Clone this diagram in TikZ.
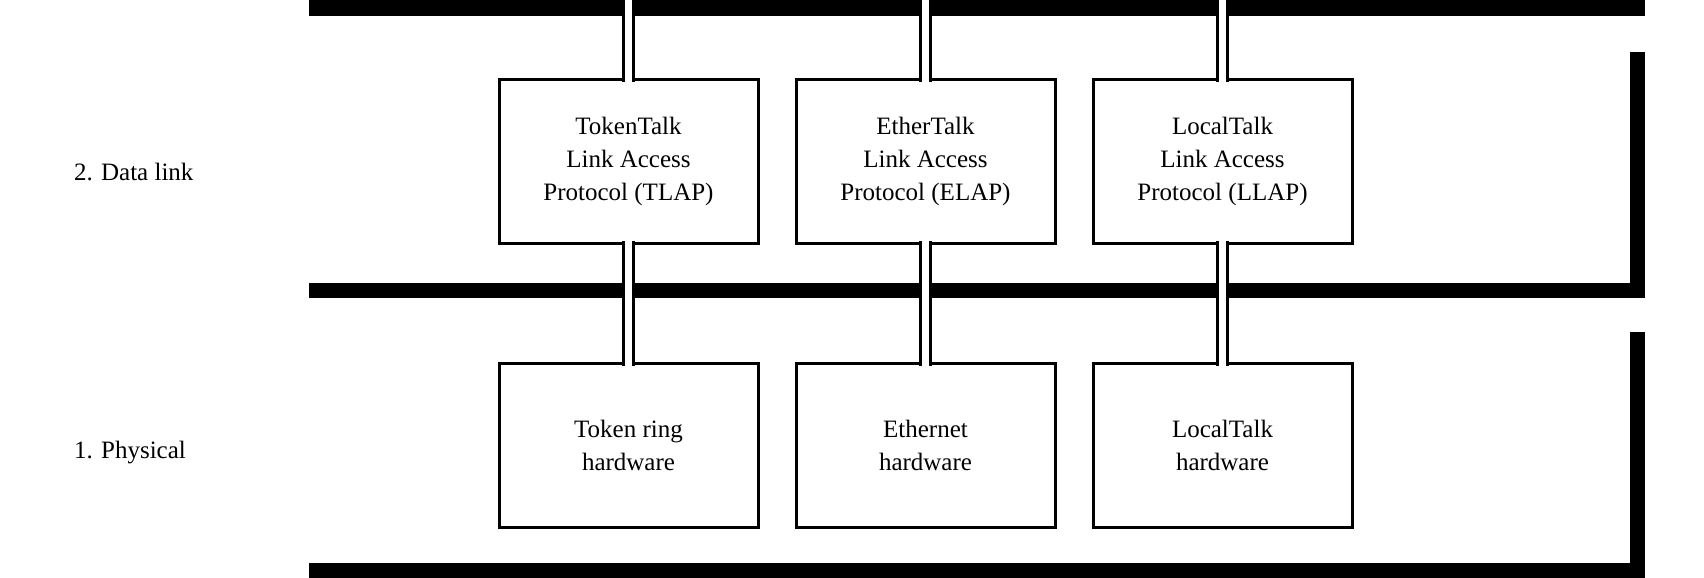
\documentclass[tikz,border=0pt]{standalone}
\usepackage{fontspec}
\setmainfont{Liberation Serif}
\usetikzlibrary{positioning}

\begin{document}
\begin{tikzpicture}[x=0.5pt, y=-0.5pt, node distance=58.5pt and 17.5pt,
  layerbox/.style={draw, line width=1.5pt, minimum width=129.5pt, minimum height=82pt, align=center, font=\fontsize{12.5}{16.5}\selectfont},
  pipe/.style={line width=1.5pt, double=white, double distance=3.5pt},
  bar/.style={line width=7.5pt},
  layername/.style={anchor=west, font=\fontsize{12.5}{15}\selectfont}]
\useasboundingbox (0,0) rectangle (1704,578);

% layer bars
\coordinate (nettop) at (0,0);
\draw[bar] (309,8) -| (1637.5,0);
\draw[bar] (309,290.5) -| (1637.5,52);
\draw[bar] (309,570) -| (1637.5,332);

% layer names
\node[layername] (datalink) at (67,172) {2. Data link};
\node[layername] (physical) at (67,453) {1. Physical};

% data link protocols
\node[layerbox] (tlap) at (628.5,161) {TokenTalk\\Link Access\\Protocol (TLAP)};
\node[layerbox, right=of tlap] (elap) {EtherTalk\\Link Access\\Protocol (ELAP)};
\node[layerbox, right=of elap] (llap) {LocalTalk\\Link Access\\Protocol (LLAP)};

% hardware
\node[layerbox, below=of tlap] (tokenhw) {Token ring\\hardware};
\node[layerbox, below=of elap] (etherhw) {Ethernet\\hardware};
\node[layerbox, below=of llap] (localhw) {LocalTalk\\hardware};

\draw[pipe] ([yshift=-2pt]tlap.north) -- (tlap.north |- nettop);
\draw[pipe] ([yshift=-2pt]elap.north) -- (elap.north |- nettop);
\draw[pipe] ([yshift=-2pt]llap.north) -- (llap.north |- nettop);

\draw[pipe] ([yshift=2pt]tlap.south) -- ([yshift=-2pt]tokenhw.north);
\draw[pipe] ([yshift=2pt]elap.south) -- ([yshift=-2pt]etherhw.north);
\draw[pipe] ([yshift=2pt]llap.south) -- ([yshift=-2pt]localhw.north);
\end{tikzpicture}
\end{document}
